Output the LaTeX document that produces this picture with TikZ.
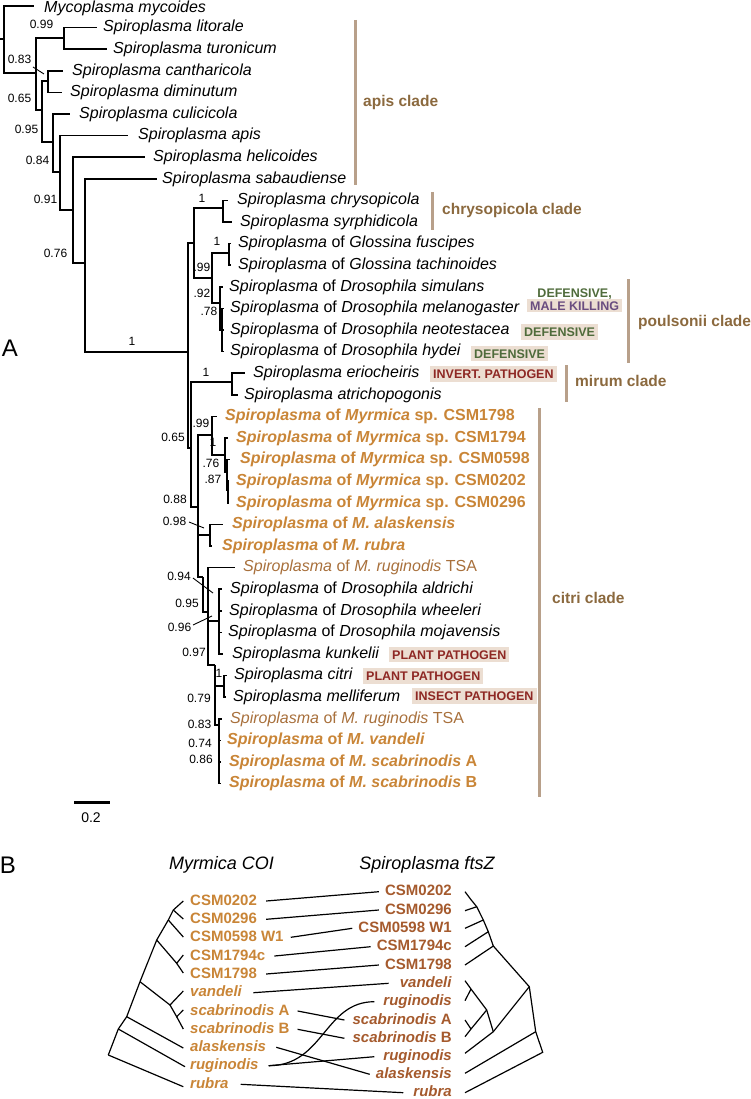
\documentclass[tikz,border=0pt]{standalone}
\usepackage{fontspec}
\setmainfont{Liberation Sans}
\usetikzlibrary{positioning}
\definecolor{cladebrown}{RGB}{139,105,62}
\definecolor{cladebar}{RGB}{184,160,138}
\definecolor{myrorange}{RGB}{201,133,55}
\definecolor{tsabrown}{RGB}{168,112,60}
\definecolor{ftsbrown}{RGB}{165,90,45}
\definecolor{tagbg}{RGB}{236,222,210}
\definecolor{tagred}{RGB}{142,40,36}
\definecolor{taggreen}{RGB}{79,107,59}
\definecolor{tagpurple}{RGB}{106,77,128}

\begin{document}
\begin{tikzpicture}[x=1pt, y=-1pt,
    branch/.style={line width=1.6pt},
    leader/.style={line width=0.9pt},
    taxon/.style={anchor=west, inner sep=0pt, text height=12pt, text depth=3.5pt,
        font=\fontsize{16}{19}\selectfont},
    ant/.style={taxon, text=myrorange, font=\fontsize{16}{19}\selectfont\bfseries},
    tsa/.style={taxon, text=tsabrown},
    supp/.style={inner sep=0pt, font=\fontsize{12}{14}\selectfont},
    tagbox/.style={anchor=west, fill=tagbg, inner xsep=3pt, inner ysep=3.4pt,
        text height=9pt, text depth=0pt, text=tagred, font=\fontsize{12.5}{13}\selectfont\bfseries},
    bar/.style={cladebar, line width=3pt},
    clade/.style={anchor=west, inner sep=0pt, text=cladebrown, font=\fontsize{15.5}{18}\selectfont\bfseries},
    cophy/.style={line width=1.2pt},
    coi/.style={anchor=west, inner sep=0pt, text height=11pt, text depth=3pt, text=myrorange,
        font=\fontsize{15}{17}\selectfont\bfseries},
    fts/.style={anchor=east, inner sep=0pt, text height=11pt, text depth=3pt, text=ftsbrown,
        font=\fontsize{15}{17}\selectfont\bfseries},
    header/.style={inner sep=0pt, font=\fontsize{18}{20}\selectfont\itshape},
    panel/.style={inner sep=0pt, font=\fontsize{24}{26}\selectfont}]
\useasboundingbox (0,0) rectangle (750,1099);

% ---------------- panel A: tree nodes
\coordinate (rs) at (0,39);
\coordinate (root) at (4,39);
\coordinate (n1) at (36,73);
\coordinate (n2) at (64,38);
\coordinate (n3) at (42,110);
\coordinate (n4) at (48,81);
\coordinate (n5) at (53,142);
\coordinate (n6) at (60,172);
\coordinate (n7) at (73,210);
\coordinate (n8) at (85,263);
\coordinate (n9) at (188,352);
\coordinate (n10) at (194,243);
\coordinate (n11) at (223,208);
\coordinate (n12) at (212,278);
\coordinate (n13) at (229,253);
\coordinate (n14) at (220,303);
\coordinate (n15) at (222,330);
\coordinate (n16) at (232,382);
\coordinate (n17) at (191,448);
\coordinate (n18) at (198,507);
\coordinate (n19) at (212,435);
\coordinate (n20) at (225,455);
\coordinate (n21) at (227,472);
\coordinate (n22) at (228,490);
\coordinate (n24) at (210,535);
\coordinate (n25) at (203,577);
\coordinate (n26) at (208,612);
\coordinate (n27) at (219,621);
\coordinate (n28) at (215,665);
\coordinate (n29) at (224,686);
\coordinate (n30) at (219,725);

% tips
\coordinate (t-myc) at (34,6);
\coordinate (t-lit) at (97,27.6);
\coordinate (t-tur) at (107,49.2);
\coordinate (t-can) at (63,70.8);
\coordinate (t-dim) at (62,92.4);
\coordinate (t-cul) at (70,114);
\coordinate (t-api) at (128,135.6);
\coordinate (t-hel) at (145,157.2);
\coordinate (t-sab) at (157,178.8);
\coordinate (t-chr) at (228,200.4);
\coordinate (t-syr) at (232,222);
\coordinate (t-fus) at (231,243.6);
\coordinate (t-tac) at (231,265.2);
\coordinate (t-sim) at (223,286.8);
\coordinate (t-mel) at (224,308.4);
\coordinate (t-neo) at (224,330);
\coordinate (t-hyd) at (224,351.6);
\coordinate (t-eri) at (245,373.2);
\coordinate (t-atr) at (238,394.8);
\coordinate (t-1798) at (217,416.4);
\coordinate (t-1794) at (228,438);
\coordinate (t-0598) at (230,459.6);
\coordinate (t-0202) at (229,481.2);
\coordinate (t-0296) at (229,502.8);
\coordinate (t-ala) at (223,524.4);
\coordinate (t-rub) at (212,546);
\coordinate (t-rug1) at (235,567.6);
\coordinate (t-ald) at (222,589.2);
\coordinate (t-whe) at (222,610.8);
\coordinate (t-moj) at (222,632.4);
\coordinate (t-kun) at (223,654);
\coordinate (t-cit) at (227,675.6);
\coordinate (t-mll) at (226,697.2);
\coordinate (t-rug2) at (222,718.8);
\coordinate (t-van) at (221,740.4);
\coordinate (t-scA) at (221,762);
\coordinate (t-scB) at (221,783.6);

% branches
\draw[branch] (rs) -- (root);
\draw[branch] (root) |- (t-myc);
\draw[branch] (root) |- (n1);
\draw[branch] (n1) |- (n2);
\draw[branch] (n1) |- (n3);
\draw[branch] (n2) |- (t-lit);
\draw[branch] (n2) |- (t-tur);
\draw[branch] (n3) |- (n4);
\draw[branch] (n3) |- (n5);
\draw[branch] (n4) |- (t-can);
\draw[branch] (n4) |- (t-dim);
\draw[branch] (n5) |- (t-cul);
\draw[branch] (n5) |- (n6);
\draw[branch] (n6) |- (t-api);
\draw[branch] (n6) |- (n7);
\draw[branch] (n7) |- (t-hel);
\draw[branch] (n7) |- (n8);
\draw[branch] (n8) |- (t-sab);
\draw[branch] (n8) |- (n9);
\draw[branch] (n9) |- (n10);
\draw[branch] (n9) |- (n17);
\draw[branch] (n10) |- (n11);
\draw[branch] (n10) |- (n12);
\draw[branch] (n11) |- (t-chr);
\draw[branch] (n11) |- (t-syr);
\draw[branch] (n12) |- (n13);
\draw[branch] (n12) |- (n14);
\draw[branch] (n13) |- (t-fus);
\draw[branch] (n13) |- (t-tac);
\draw[branch] (n14) |- (t-sim);
\draw[branch] (n14) |- (n15);
\draw[branch] (n15) |- (t-mel);
\draw[branch] (n15) |- (t-neo);
\draw[branch] (n15) |- (t-hyd);
\draw[branch] (n17) |- (n16);
\draw[branch] (n17) |- (n18);
\draw[branch] (n16) |- (t-eri);
\draw[branch] (n16) |- (t-atr);
\draw[branch] (n18) |- (n19);
\draw[branch] (n18) |- (n24);
\draw[branch] (n18) |- (n25);
\draw[branch] (n19) |- (t-1798);
\draw[branch] (n19) |- (n20);
\draw[branch] (n20) |- (t-1794);
\draw[branch] (n20) |- (n21);
\draw[branch] (n21) |- (t-0598);
\draw[branch] (n21) |- (n22);
\draw[branch] (n22) |- (t-0202);
\draw[branch] (n22) |- (t-0296);
\draw[branch] (n24) |- (t-ala);
\draw[branch] (n24) |- (t-rub);
\draw[branch] (n25) |- (n26);
\draw[branch] (n26) |- (t-rug1);
\draw[branch] (n26) |- (n27);
\draw[branch] (n26) |- (n28);
\draw[branch] (n27) |- (t-ald);
\draw[branch] (n27) |- (t-whe);
\draw[branch] (n27) |- (t-moj);
\draw[branch] (n27) |- (t-kun);
\draw[branch] (n28) |- (n29);
\draw[branch] (n28) |- (n30);
\draw[branch] (n29) |- (t-cit);
\draw[branch] (n29) |- (t-mll);
\draw[branch] (n30) |- (t-rug2);
\draw[branch] (n30) |- (t-van);
\draw[branch] (n30) |- (t-scA);
\draw[branch] (n30) |- (t-scB);

% taxa
\node[taxon] (mycoides) at (44,8) {\textit{Mycoplasma mycoides}};
\node[taxon] (litorale) at (103,27.6) {\textit{Spiroplasma litorale}};
\node[taxon] (turonicum) at (113,49.2) {\textit{Spiroplasma turonicum}};
\node[taxon] (cantharicola) at (72,70.8) {\textit{Spiroplasma cantharicola}};
\node[taxon] (diminutum) at (70,92.4) {\textit{Spiroplasma diminutum}};
\node[taxon] (culicicola) at (79,114) {\textit{Spiroplasma culicicola}};
\node[taxon] (apis) at (138,135.6) {\textit{Spiroplasma apis}};
\node[taxon] (helicoides) at (153,157.2) {\textit{Spiroplasma helicoides}};
\node[taxon] (sabaudiense) at (162,178.8) {\textit{Spiroplasma sabaudiense}};
\node[taxon] (chrysopicola) at (237,200.4) {\textit{Spiroplasma chrysopicola}};
\node[taxon] (syrphidicola) at (240,222) {\textit{Spiroplasma syrphidicola}};
\node[taxon] (fuscipes) at (238,243.6) {\textit{Spiroplasma} of \textit{Glossina fuscipes}};
\node[taxon] (tachinoides) at (238,265.2) {\textit{Spiroplasma} of \textit{Glossina tachinoides}};
\node[taxon] (simulans) at (229,286.8) {\textit{Spiroplasma} of \textit{Drosophila simulans}};
\node[taxon] (melanogaster) at (230,308.4) {\textit{Spiroplasma} of \textit{Drosophila melanogaster}};
\node[taxon] (neotestacea) at (230,330) {\textit{Spiroplasma} of \textit{Drosophila neotestacea}};
\node[taxon] (hydei) at (230,351.6) {\textit{Spiroplasma} of \textit{Drosophila hydei}};
\node[taxon] (eriocheiris) at (253,373.2) {\textit{Spiroplasma eriocheiris}};
\node[taxon] (atrichopogonis) at (244,394.8) {\textit{Spiroplasma atrichopogonis}};
\node[ant] (csm1798) at (225,416.4) {\textit{Spiroplasma} of \textit{Myrmica} sp. CSM1798};
\node[ant] (csm1794) at (236,438) {\textit{Spiroplasma} of \textit{Myrmica} sp. CSM1794};
\node[ant] (csm0598) at (240,459.6) {\textit{Spiroplasma} of \textit{Myrmica} sp. CSM0598};
\node[ant] (csm0202) at (236,481.2) {\textit{Spiroplasma} of \textit{Myrmica} sp. CSM0202};
\node[ant] (csm0296) at (236,502.8) {\textit{Spiroplasma} of \textit{Myrmica} sp. CSM0296};
\node[ant] (alaskensis) at (232,524.4) {\textit{Spiroplasma} of \textit{M. alaskensis}};
\node[ant] (rubra) at (222,546) {\textit{Spiroplasma} of \textit{M. rubra}};
\node[tsa] (ruginodis1) at (243,567.6) {\textit{Spiroplasma} of \textit{M. ruginodis} TSA};
\node[taxon] (aldrichi) at (230,589.2) {\textit{Spiroplasma} of \textit{Drosophila aldrichi}};
\node[taxon] (wheeleri) at (229,610.8) {\textit{Spiroplasma} of \textit{Drosophila wheeleri}};
\node[taxon] (mojavensis) at (228,632.4) {\textit{Spiroplasma} of \textit{Drosophila mojavensis}};
\node[taxon] (kunkelii) at (232,654) {\textit{Spiroplasma kunkelii}};
\node[taxon] (citri) at (234,675.6) {\textit{Spiroplasma citri}};
\node[taxon] (melliferum) at (233,697.2) {\textit{Spiroplasma melliferum}};
\node[tsa] (ruginodis2) at (230,718.8) {\textit{Spiroplasma} of \textit{M. ruginodis} TSA};
\node[ant] (vandeli) at (227,740.4) {\textit{Spiroplasma} of \textit{M. vandeli}};
\node[ant] (scabA) at (229,762) {\textit{Spiroplasma} of \textit{M. scabrinodis} A};
\node[ant] (scabB) at (229,783.6) {\textit{Spiroplasma} of \textit{M. scabrinodis} B};

% phenotype tags
\node[tagbox, align=center, inner ysep=2.3pt] (tag-mel) at (527,305.5)
    {\textcolor{taggreen}{DEFENSIVE,}\\\textcolor{tagpurple}{MALE KILLING}};
\node[tagbox, text=taggreen] (tag-neo) at (521,332) {DEFENSIVE};
\node[tagbox, text=taggreen] (tag-hyd) at (471,353.5) {DEFENSIVE};
\node[tagbox] (tag-eri) at (430,374) {INVERT. PATHOGEN};
\node[tagbox] (tag-kun) at (389,654.5) {PLANT PATHOGEN};
\node[tagbox] (tag-cit) at (363,676) {PLANT PATHOGEN};
\node[tagbox] (tag-mll) at (412,696) {INSECT PATHOGEN};

% support values
\node[supp] (s1) at (41.5,24) {0.99};
\node[supp] (s2) at (19.5,59) {0.83};
\coordinate (l2a) at (33,67);
\coordinate (l2b) at (44,74);
\draw[leader] (l2a) -- (l2b);
\node[supp] (s3) at (19.5,98) {0.65};
\node[supp] (s4) at (26.5,129) {0.95};
\node[supp] (s5) at (37.5,160) {0.84};
\node[supp] (s6) at (45.5,199) {0.91};
\node[supp] (s7) at (55.5,253) {0.76};
\node[supp] (s8) at (132,341) {1};
\node[supp] (s9) at (202,198) {1};
\node[supp] (s10) at (202,267) {.99};
\node[supp] (s11) at (217,241) {1};
\node[supp] (s12) at (202,293) {.92};
\node[supp] (s13) at (209,311) {.78};
\node[supp] (s14) at (206,372) {1};
\node[supp] (s15) at (173,437) {0.65};
\node[supp] (s16) at (201,423) {.99};
\node[supp] (s17) at (213,442) {1};
\node[supp] (s18) at (211,463) {.76};
\node[supp] (s19) at (213,479) {.87};
\node[supp] (s20) at (175,499) {0.88};
\node[supp] (s21) at (174.5,521) {0.98};
\coordinate (l21a) at (189,522);
\coordinate (l21b) at (204,528);
\draw[leader] (l21a) -- (l21b);
\node[supp] (s22) at (179,576) {0.94};
\coordinate (l22a) at (193,578);
\coordinate (l22b) at (213,593);
\draw[leader] (l22a) -- (l22b);
\node[supp] (s23) at (187,603) {0.95};
\node[supp] (s24) at (179.5,627) {0.96};
\coordinate (l24a) at (193,625);
\coordinate (l24b) at (212,616);
\draw[leader] (l24a) -- (l24b);
\node[supp] (s25) at (194,652) {0.97};
\node[supp] (s26) at (219,673) {1};
\node[supp] (s27) at (199,698) {0.79};
\node[supp] (s28) at (199.5,724) {0.83};
\node[supp] (s29) at (200,743) {0.74};
\node[supp] (s30) at (201,759) {0.86};

% clade bars
\coordinate (apis-top) at (355,20);
\coordinate (apis-bot) at (355,185);
\draw[bar] (apis-top) -- (apis-bot);
\node[clade] (apis-lab) at (363,102) {apis clade};
\coordinate (chry-top) at (432,192);
\coordinate (chry-bot) at (432,230);
\draw[bar] (chry-top) -- (chry-bot);
\node[clade] (chry-lab) at (442,210) {chrysopicola clade};
\coordinate (poul-top) at (628,279);
\coordinate (poul-bot) at (628,363);
\draw[bar] (poul-top) -- (poul-bot);
\node[clade] (poul-lab) at (638,322) {poulsonii clade};
\coordinate (mir-top) at (566,365);
\coordinate (mir-bot) at (566,402);
\draw[bar] (mir-top) -- (mir-bot);
\node[clade] (mir-lab) at (575,381) {mirum clade};
\coordinate (cit-top) at (539,408);
\coordinate (cit-bot) at (539,797);
\draw[bar] (cit-top) -- (cit-bot);
\node[clade] (cit-lab) at (552,598) {citri clade};

\node[panel] (A) at (10,348) {A};

% scale bar
\coordinate (sb-l) at (74,802);
\coordinate (sb-r) at (110,802);
\draw[line width=3pt] (sb-l) -- (sb-r);
\node[inner sep=0pt, font=\fontsize{14}{16}\selectfont] (sb-lab) at (91,818) {0.2};

% ---------------- panel B
\node[panel] (B) at (8,865) {B};
\node[header] (coi-head) at (221.5,865) {Myrmica COI};
\node[header] (fts-head) at (427,865) {Spiroplasma ftsZ};

% Myrmica COI tree
\coordinate (c-root) at (108.3,1055);
\coordinate (c-b1) at (118.3,1029);
\coordinate (c-b2) at (126.7,1016.7);
\coordinate (c-b3) at (140,981.7);
\coordinate (c-b4) at (156.7,940);
\coordinate (c-b5) at (168.3,920);
\coordinate (c-b6) at (173.3,910);
\coordinate (c-n17) at (176.7,963.3);
\coordinate (c-nv) at (170,1005);
\coordinate (c-nsc) at (176.7,1016.7);
\coordinate (c-0202) at (183.3,901);
\coordinate (c-0296) at (183.3,919);
\coordinate (c-0598) at (183.3,937);
\coordinate (c-1794) at (183.3,955);
\coordinate (c-1798) at (183.3,973);
\coordinate (c-van) at (183.3,991);
\coordinate (c-scA) at (183.3,1010);
\coordinate (c-scB) at (183.3,1029);
\coordinate (c-ala) at (183.3,1048);
\coordinate (c-rug) at (185,1066.7);
\coordinate (c-rub) at (183.3,1086.7);
\draw[cophy] (c-root) -- (c-rub);
\draw[cophy] (c-root) -- (c-b1) -- (c-b2) -- (c-b3) -- (c-b4) -- (c-b5) -- (c-b6) -- (c-0202);
\draw[cophy] (c-b1) -- (c-rug);
\draw[cophy] (c-b2) -- (c-ala);
\draw[cophy] (c-b3) -- (c-nv) -- (c-van);
\draw[cophy] (c-nv) -- (c-nsc) -- (c-scA);
\draw[cophy] (c-nsc) -- (c-scB);
\draw[cophy] (c-b4) -- (c-n17) -- (c-1794);
\draw[cophy] (c-n17) -- (c-1798);
\draw[cophy] (c-b5) -- (c-0598);
\draw[cophy] (c-b6) -- (c-0296);

\node[coi] (coi-0202) at (190,901) {CSM0202};
\node[coi] (coi-0296) at (190,919.3) {CSM0296};
\node[coi] (coi-0598) at (190,937.3) {CSM0598 W1};
\node[coi] (coi-1794) at (190,956) {CSM1794c};
\node[coi] (coi-1798) at (190,974) {CSM1798};
\node[coi] (coi-van) at (190,992.7) {\textit{vandeli}};
\node[coi] (coi-scA) at (190,1011) {\textit{scabrinodis} A};
\node[coi] (coi-scB) at (190,1029.3) {\textit{scabrinodis} B};
\node[coi] (coi-ala) at (190,1047.3) {\textit{alaskensis}};
\node[coi] (coi-rug) at (190,1065.7) {\textit{ruginodis}};
\node[coi] (coi-rub) at (190,1084.3) {\textit{rubra}};

% Spiroplasma ftsZ tree
\coordinate (f-0202) at (465,891.7);
\coordinate (f-0296) at (465,910.7);
\coordinate (f-0598) at (465,928.3);
\coordinate (f-1794) at (465,946.7);
\coordinate (f-1798) at (465,965);
\coordinate (f-van) at (465,980.7);
\coordinate (f-rugA) at (465,1000.7);
\coordinate (f-scA) at (465,1020);
\coordinate (f-scB) at (465,1036.7);
\coordinate (f-rugB) at (465,1053.3);
\coordinate (f-ala) at (465,1073.3);
\coordinate (f-rub) at (465,1092.7);
\coordinate (f-c1) at (470.7,899.3);
\coordinate (f-c2) at (476.7,906.7);
\coordinate (f-c3) at (483.3,920);
\coordinate (f-c4) at (488.3,931.7);
\coordinate (f-c5) at (493.3,946);
\coordinate (f-d1) at (529.3,986.7);
\coordinate (f-vr) at (471,989);
\coordinate (f-sc) at (471,1029);
\coordinate (f-d3) at (486.7,1010);
\coordinate (f-d2) at (493.3,1031.7);
\coordinate (f-d4) at (535.7,1031.7);
\coordinate (f-root) at (542.7,1052.3);
\draw[cophy] (f-0202) -- (f-c1) -- (f-c2) -- (f-c3) -- (f-c4) -- (f-c5) -- (f-d1) -- (f-d4) -- (f-root) -- (f-rub);
\draw[cophy] (f-0296) -- (f-c2);
\draw[cophy] (f-0598) -- (f-c3);
\draw[cophy] (f-1794) -- (f-c4);
\draw[cophy] (f-1798) -- (f-c5);
\draw[cophy] (f-d1) -- (f-d2) -- (f-rugB);
\draw[cophy] (f-d2) -- (f-d3) -- (f-vr) -- (f-van);
\draw[cophy] (f-vr) -- (f-rugA);
\draw[cophy] (f-d3) -- (f-sc) -- (f-scB);
\draw[cophy] (f-sc) -- (f-scA);
\draw[cophy] (f-d4) -- (f-ala);

\node[fts] (fts-0202) at (452,891.7) {CSM0202};
\node[fts] (fts-0296) at (452,910) {CSM0296};
\node[fts] (fts-0598) at (452,928.3) {CSM0598 W1};
\node[fts] (fts-1794) at (452,946.7) {CSM1794c};
\node[fts] (fts-1798) at (452,965) {CSM1798};
\node[fts] (fts-van) at (452,983.3) {\textit{vandeli}};
\node[fts] (fts-rugA) at (452,1001.7) {\textit{ruginodis}};
\node[fts] (fts-scA) at (452,1020) {\textit{scabrinodis} A};
\node[fts] (fts-scB) at (452,1038.3) {\textit{scabrinodis} B};
\node[fts] (fts-rugB) at (452,1056.7) {\textit{ruginodis}};
\node[fts] (fts-ala) at (452,1074.3) {\textit{alaskensis}};
\node[fts] (fts-rub) at (452,1092.7) {\textit{rubra}};

% host-symbiont links
\draw[cophy] ([xshift=9pt]coi-0202.east) -- ([xshift=-6pt]fts-0202.west);
\draw[cophy] ([xshift=9pt]coi-0296.east) -- ([xshift=-6pt]fts-0296.west);
\draw[cophy] ([xshift=7pt]coi-0598.east) -- ([xshift=-6pt]fts-0598.west);
\draw[cophy] ([xshift=9pt]coi-1794.east) -- ([xshift=-6pt]fts-1794.west);
\draw[cophy] ([xshift=9pt]coi-1798.east) -- ([xshift=-6pt]fts-1798.west);
\draw[cophy] ([xshift=11pt]coi-van.east) -- ([xshift=-11pt]fts-van.west);
\draw[cophy] ([xshift=8pt]coi-scA.east) -- ([xshift=-8pt]fts-scA.west);
\draw[cophy] ([xshift=8pt]coi-scB.east) -- ([xshift=-8pt]fts-scB.west);
\draw[cophy] ([xshift=10pt]coi-ala.east) -- ([xshift=-6pt]fts-ala.west);
\draw[cophy] ([xshift=10pt]coi-rug.east) -- ([xshift=-9pt]fts-rugB.west);
\draw[cophy] ([xshift=10pt]coi-rug.east) .. controls +(55,0) and +(-50,0) .. ([xshift=-9pt]fts-rugA.west);
\draw[cophy] ([xshift=12pt]coi-rub.east) -- ([xshift=-10pt]fts-rub.west);
\end{tikzpicture}
\end{document}
